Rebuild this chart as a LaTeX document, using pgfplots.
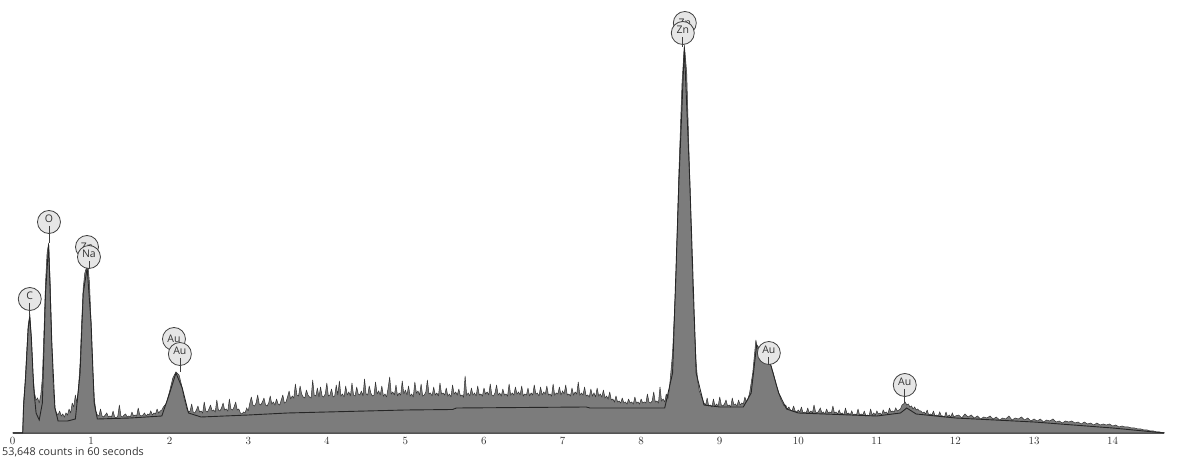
\documentclass[border=0pt]{standalone}
\usepackage{pgfplots}
\pgfplotsset{compat=1.18}
\usepackage{pgfplotstable}
\usepackage{fontspec}
\setmainfont{Open Sans}
\definecolor{specfill}{HTML}{7C7C7C}
\definecolor{specline}{HTML}{333333}
\definecolor{lblfill}{HTML}{E6E6E6}
\pgfplotstableread{
x y
0.00 0
0.13 0
0.14 30
0.16 50
0.18 80
0.20 108
0.22 118
0.24 95
0.26 60
0.28 40
0.30 33
0.32 35
0.34 30
0.36 38
0.38 55
0.40 100
0.42 150
0.44 180
0.46 190
0.48 150
0.50 90
0.52 45
0.54 25
0.56 20
0.58 18
0.60 22
0.62 17
0.64 19
0.66 16
0.68 20
0.70 18
0.72 24
0.74 20
0.76 30
0.78 26
0.80 38
0.82 30
0.84 45
0.86 70
0.88 110
0.90 145
0.92 160
0.94 165
0.96 168
0.98 150
1.00 110
1.02 65
1.04 35
1.06 22
1.08 18
1.10 17
1.12 24
1.14 17
1.16 16
1.18 18
1.20 20
1.22 16
1.24 17
1.26 16
1.28 22
1.30 16
1.32 15
1.34 17
1.36 28
1.38 17
1.40 16
1.42 18
1.44 19
1.46 16
1.48 17
1.50 16
1.52 21
1.54 17
1.56 18
1.58 17
1.60 25
1.62 18
1.64 17
1.66 18
1.68 20
1.70 17
1.72 19
1.74 18
1.76 22
1.78 18
1.80 20
1.82 19
1.84 24
1.86 20
1.88 22
1.90 23
1.92 26
1.94 28
1.96 30
1.98 36
2.00 42
2.04 55
2.08 61
2.12 58
2.16 45
2.18 36
2.20 30
2.22 24
2.24 21
2.26 22
2.28 29
2.30 21
2.32 20
2.34 23
2.36 27
2.38 21
2.40 22
2.42 20
2.44 31
2.46 22
2.48 21
2.50 24
2.52 28
2.54 22
2.56 23
2.58 21
2.60 33
2.62 23
2.64 22
2.66 25
2.68 30
2.70 23
2.72 24
2.74 22
2.76 34
2.78 24
2.80 23
2.82 26
2.84 31
2.86 23
2.88 24
2.90 20
2.92 19
2.94 21
2.96 20
2.98 25
3.00 22
3.02 30
3.04 36
3.06 28
3.08 27
3.10 30
3.12 38
3.14 29
3.16 28
3.18 31
3.20 35
3.22 28
3.24 27
3.26 30
3.28 37
3.30 29
3.32 31
3.34 28
3.36 34
3.38 29
3.40 28
3.42 33
3.44 38
3.46 30
3.48 31
3.50 36
3.52 42
3.54 34
3.56 37
3.58 35
3.60 49
3.62 38
3.64 37
3.66 47
3.68 39
3.70 36
3.72 35
3.74 43
3.76 38
3.78 36
3.80 35
3.82 53
3.84 38
3.86 37
3.88 45
3.90 36
3.92 46
3.94 37
3.96 36
3.98 39
4.00 50
4.02 37
4.04 38
4.06 44
4.08 36
4.10 37
4.12 48
4.14 38
4.16 52
4.18 37
4.20 39
4.22 36
4.24 47
4.26 38
4.28 41
4.30 37
4.32 50
4.34 38
4.36 37
4.38 46
4.40 39
4.42 38
4.44 42
4.46 37
4.48 54
4.50 39
4.52 38
4.54 47
4.56 40
4.58 37
4.60 38
4.62 51
4.64 39
4.66 42
4.68 38
4.70 47
4.72 37
4.74 39
4.76 36
4.78 45
4.80 56
4.82 39
4.84 41
4.86 38
4.88 48
4.90 37
4.92 40
4.94 38
4.96 52
4.98 39
5.00 43
5.02 38
5.04 47
5.06 37
5.08 39
5.10 36
5.12 51
5.14 40
5.16 42
5.18 38
5.20 49
5.22 37
5.24 38
5.26 41
5.28 53
5.30 39
5.32 40
5.34 37
5.36 46
5.38 38
5.40 40
5.42 37
5.44 50
5.46 39
5.48 40
5.50 38
5.52 45
5.54 37
5.56 39
5.58 36
5.60 48
5.62 39
5.64 41
5.66 38
5.68 44
5.70 37
5.72 38
5.74 36
5.76 57
5.78 38
5.80 40
5.82 37
5.84 45
5.86 38
5.88 40
5.90 37
5.92 47
5.94 38
5.96 39
5.98 37
6.00 45
6.02 39
6.04 41
6.06 38
6.08 49
6.10 38
6.12 37
6.14 40
6.16 48
6.18 38
6.20 40
6.22 37
6.24 44
6.26 38
6.28 39
6.30 37
6.32 49
6.34 38
6.36 40
6.38 38
6.40 46
6.42 39
6.44 41
6.46 38
6.48 47
6.50 37
6.52 39
6.54 38
6.56 45
6.58 37
6.60 40
6.62 38
6.64 48
6.66 39
6.68 40
6.70 37
6.72 46
6.74 38
6.76 41
6.78 39
6.80 47
6.82 38
6.84 39
6.86 37
6.88 49
6.90 38
6.92 40
6.94 39
6.96 46
6.98 38
7.00 42
7.02 39
7.04 48
7.06 38
7.08 39
7.10 37
7.12 45
7.14 38
7.16 41
7.18 39
7.20 51
7.22 38
7.24 40
7.26 38
7.28 46
7.30 37
7.32 38
7.34 36
7.36 44
7.38 37
7.40 40
7.42 36
7.44 45
7.46 37
7.48 39
7.50 36
7.52 43
7.54 35
7.56 37
7.58 34
7.60 41
7.62 33
7.64 34
7.66 31
7.68 37
7.70 31
7.72 32
7.74 30
7.76 35
7.78 30
7.80 31
7.82 29
7.84 34
7.86 30
7.88 31
7.90 29
7.92 36
7.94 30
7.96 31
7.98 29
8.00 34
8.02 30
8.04 31
8.06 30
8.08 39
8.10 31
8.12 30
8.14 32
8.16 41
8.18 31
8.20 32
8.22 30
8.24 46
8.26 32
8.28 34
8.30 31
8.32 39
8.34 34
8.36 45
8.40 80
8.44 150
8.48 260
8.52 350
8.55 388
8.58 360
8.62 250
8.66 140
8.70 70
8.72 52
8.74 42
8.76 38
8.78 34
8.80 30
8.82 28
8.84 35
8.86 27
8.88 28
8.90 26
8.92 34
8.94 27
8.96 29
8.98 27
9.00 36
9.02 28
9.04 27
9.06 29
9.08 33
9.10 27
9.12 28
9.14 26
9.16 35
9.18 28
9.20 29
9.22 27
9.24 33
9.26 28
9.28 30
9.30 29
9.32 36
9.34 31
9.36 34
9.38 40
9.42 60
9.46 93
9.48 85
9.52 80
9.56 82
9.60 76
9.64 70
9.68 60
9.72 48
9.76 38
9.78 33
9.80 30
9.82 27
9.84 28
9.86 24
9.88 26
9.90 23
9.92 22
9.94 27
9.96 22
9.98 21
10.00 23
10.02 21
10.04 26
10.06 20
10.08 21
10.10 20
10.12 25
10.14 20
10.16 22
10.18 20
10.20 28
10.22 21
10.24 20
10.26 22
10.28 25
10.30 20
10.32 21
10.34 19
10.36 24
10.38 20
10.40 21
10.42 20
10.44 27
10.46 20
10.48 21
10.50 19
10.52 23
10.54 19
10.56 20
10.58 18
10.60 25
10.62 19
10.64 20
10.66 18
10.68 22
10.70 18
10.72 19
10.74 18
10.76 24
10.78 18
10.80 19
10.82 18
10.84 22
10.86 17
10.88 18
10.90 17
10.92 24
10.94 18
10.96 20
10.98 18
11.00 22
11.02 19
11.04 20
11.06 18
11.08 23
11.10 20
11.12 21
11.14 19
11.16 25
11.18 21
11.20 22
11.22 21
11.24 25
11.26 22
11.28 23
11.30 24
11.32 28
11.34 29
11.36 31
11.38 28
11.40 29
11.42 26
11.44 27
11.46 24
11.48 26
11.50 23
11.52 24
11.54 22
11.56 22
11.58 20
11.60 21
11.62 19
11.64 23
11.66 18
11.68 19
11.70 18
11.72 22
11.74 17
11.76 18
11.78 17
11.80 21
11.82 17
11.84 17
11.86 16
11.88 21
11.90 16
11.92 18
11.94 16
11.96 20
11.98 16
12.00 17
12.04 18
12.08 15
12.12 19
12.16 16
12.20 18
12.24 15
12.28 17
12.32 14
12.36 16
12.40 15
12.44 17
12.48 14
12.52 16
12.56 13
12.60 15
12.64 14
12.68 17
12.72 13
12.76 15
12.80 14
12.84 16
12.88 13
12.92 15
12.96 12
13.00 14
13.04 12
13.08 14
13.12 11
13.16 13
13.20 12
13.24 14
13.28 11
13.32 12
13.36 10
13.40 12
13.44 11
13.48 12
13.52 10
13.56 11
13.60 9
13.64 11
13.68 9
13.72 10
13.76 8
13.80 10
13.84 8
13.88 9
13.92 8
13.96 9
14.00 7
14.04 8
14.08 6
14.12 7
14.16 6
14.20 6
14.24 5
14.28 5
14.32 4
14.36 4
14.40 3
14.44 3
14.48 2
14.52 2
14.56 1
14.60 1
14.66 0
}\spectrum
\pgfplotstableread{
x y
0.00 0
0.13 0
0.14 25
0.17 60
0.20 105
0.22 116
0.24 95
0.27 45
0.30 20
0.34 13
0.38 30
0.42 140
0.46 188
0.50 90
0.54 25
0.58 12
0.70 12
0.80 14
0.86 60
0.90 140
0.95 165
1.00 110
1.04 30
1.08 14
1.50 15
1.90 17
2.00 40
2.08 60
2.16 45
2.24 20
2.40 16
3.00 18
3.50 20
4.00 21
4.50 22
5.00 23
5.60 23.5
5.65 25
6.50 25.5
7.30 26
7.35 25
8.30 25
8.40 60
8.48 250
8.55 385
8.62 250
8.70 60
8.80 28
9.00 26
9.30 26
9.40 40
9.47 88
9.55 80
9.65 68
9.75 40
9.85 24
10.00 20
11.00 17
11.30 20
11.38 25
11.50 19
12.00 15
13.00 11
14.00 5
14.66 0
}\fitline
\begin{document}
\begin{tikzpicture}[x=1pt,y=1pt]
\useasboundingbox (0,0) rectangle (1182,462);
\begin{axis}[
  at={(12.5pt,29pt)}, anchor=south west,
  scale only axis, width=1152pt, height=433pt,
  xmin=0, xmax=14.66, ymin=0, ymax=433,
  axis x line=bottom, axis y line=none,
  axis line style={-, draw=black!65, line width=1.6pt},
  xtick={0,...,14}, major tick length=0pt,
  xticklabel style={font=\fontsize{11}{13}\selectfont, text=black!80, anchor=north, yshift=-1pt},
  clip=false,
]
\addplot[fill=specfill, draw=specline, line width=0.5pt, line join=miter, miter limit=3] table[x=x,y=y] {\spectrum} \closedcycle;
\addplot[draw=black!85, line width=0.9pt] table[x=x,y=y] {\fitline};
\tikzset{lbl/.style={circle, minimum size=23pt, inner sep=0pt, fill=lblfill, draw=black!75, line width=0.8pt, font=\fontsize{10.5}{12}\selectfont, text=black!80},
  ltxt/.style={font=\fontsize{10.5}{12}\selectfont, text=black!80}}
% C
\node[lbl] at (axis cs:0.22,134) {};
\draw[black!75, line width=0.7pt] (axis cs:0.22,130) -- (axis cs:0.22,118);
\node[ltxt] at (axis cs:0.22,137) {C};
% O
\node[lbl] at (axis cs:0.464,211) {};
\draw[black!75, line width=0.7pt] (axis cs:0.464,207) -- (axis cs:0.464,190);
\node[ltxt] at (axis cs:0.464,214) {O};
% Zn behind Na
\node[lbl] at (axis cs:0.948,186) {Zn};
\node[lbl] at (axis cs:0.973,176) {};
\draw[black!75, line width=0.7pt] (axis cs:0.973,172) -- (axis cs:0.973,165);
\node[ltxt] at (axis cs:0.973,179) {Na};
% Au 2.1
\node[lbl] at (axis cs:2.055,94) {Au};
\node[lbl] at (axis cs:2.13,79) {};
\draw[black!75, line width=0.7pt] (axis cs:2.13,75) -- (axis cs:2.13,61);
\node[ltxt] at (axis cs:2.13,82) {Au};
% Zn
\node[lbl] at (axis cs:8.556,410) {Zn};
\node[lbl] at (axis cs:8.53,400) {};
\draw[black!75, line width=0.7pt] (axis cs:8.53,396) -- (axis cs:8.53,386);
\node[ltxt] at (axis cs:8.53,403) {Zn};
% Au 9.6
\node[lbl] at (axis cs:9.625,80) {};
\draw[black!75, line width=0.7pt] (axis cs:9.625,76) -- (axis cs:9.625,68);
\node[ltxt] at (axis cs:9.625,83) {Au};
% Au 11.35
\node[lbl] at (axis cs:11.355,48) {};
\draw[black!75, line width=0.7pt] (axis cs:11.355,44) -- (axis cs:11.355,30);
\node[ltxt] at (axis cs:11.355,51) {Au};
\end{axis}
\node[anchor=west, inner sep=0pt, font=\fontsize{10.8}{12}\selectfont, text=black!80] at (2,10) {53,648 counts in 60 seconds};
\end{tikzpicture}
\end{document}
